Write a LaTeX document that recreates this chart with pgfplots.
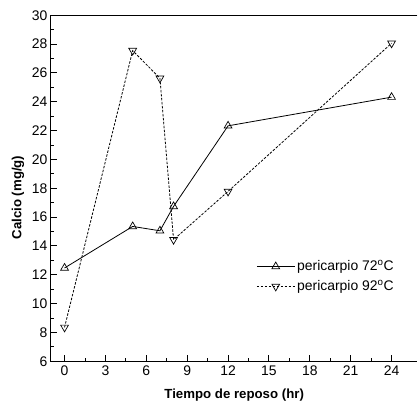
\documentclass[border=0pt]{standalone}
\usepackage{fontspec}
\setmainfont{Liberation Sans}
\usepackage{pgfplots}
\pgfplotsset{compat=1.18}

\pgfplotstableread{
x y
0  12.47
5  15.35
7  15.05
8  16.74
12 22.33
24 24.32
}\tseventytwo

\pgfplotstableread{
x y
0  8.35
5  27.55
7  25.63
8  14.43
12 17.78
24 28.06
}\tninetytwo

\begin{document}
\begin{tikzpicture}
\begin{axis}[
  name=ax,
  scale only axis,
  width=367bp, height=346.4bp,
  xmin=-1, xmax=25.9,
  ymin=6, ymax=30,
  clip=false,
  axis line style={draw=none},
  xtick={0,3,...,24},
  ytick={6,8,...,30},
  minor x tick num=1,
  minor y tick num=1,
  tick pos=left,
  tick align=inside,
  major tick length=6bp,
  minor tick length=3.5bp,
  every tick/.style={black, line width=0.9bp},
  /pgf/number format/assume math mode=true,
  ticklabel style={font=\fontsize{14}{16}\selectfont},
  xticklabel style={yshift=-1.5bp},
  xlabel={Tiempo de reposo (hr)},
  ylabel={Calcio (mg/g)},
  label style={font=\fontsize{13.3}{15}\selectfont\bfseries},
  xlabel style={yshift=-6bp},
  ylabel style={at={(ticklabel cs:0.473)}, yshift=1bp},
  legend style={at={(rel axis cs:0.56,0.245)}, anchor=west, draw=none, fill=none,
    font=\fontsize{14}{16}\selectfont, row sep=4bp, inner sep=0pt},
  legend cell align=left,
  legend image code/.code={
    \draw[mark repeat=2,mark phase=2,#1] plot coordinates {(0bp,0bp) (19bp,0bp) (38bp,0bp)};},
]
\draw[line width=1.1bp] (rel axis cs:1,1) -- (rel axis cs:0,1) -- (rel axis cs:0,0) -- (rel axis cs:1,0);
\addplot[black, line width=0.8bp, mark=triangle, mark size=4.5bp,
  mark options={solid, fill=white, line width=0.7bp}] table {\tseventytwo};
\addlegendentry{pericarpio 72\textsuperscript{o}C}
\addplot[black, line width=0.8bp, dash pattern=on 2.5bp off 1.5bp, mark=triangle, mark size=4.5bp,
  mark options={solid, fill=white, rotate=180, line width=0.7bp}] table {\tninetytwo};
\addlegendentry{pericarpio 92\textsuperscript{o}C}
\end{axis}
\path ([xshift=-51bp,yshift=-47.3bp]ax.south west) rectangle ([yshift=15.3bp]ax.north east);
\end{tikzpicture}
\end{document}
